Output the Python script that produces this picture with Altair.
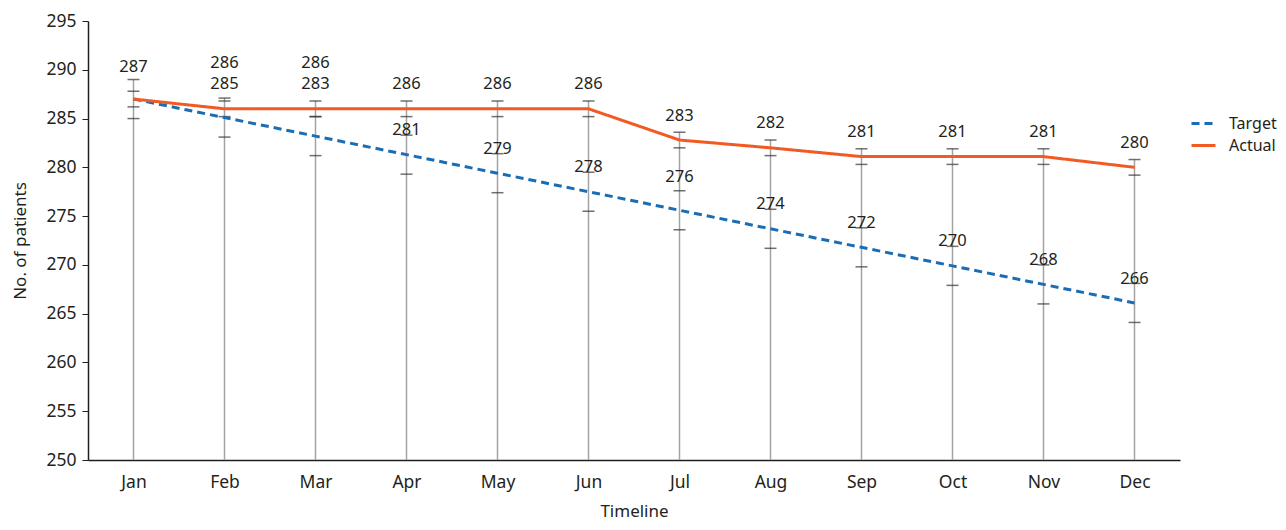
import altair as alt
import pandas as pd

months = ["Jan", "Feb", "Mar", "Apr", "May", "Jun", "Jul", "Aug", "Sep", "Oct", "Nov", "Dec"]
target = [287, 285.1, 283.2, 281.3, 279.4, 277.5, 275.6, 273.7, 271.8, 269.9, 268.0, 266.1]
actual = [287, 286, 286, 286, 286, 286, 282.8, 282, 281.1, 281.1, 281.1, 280]
target_err = [2.0] * 12
actual_err = [0.8] * 12
target_labels = ["", "285", "283", "281", "279", "278", "276", "274", "272", "270", "268", "266"]
actual_labels = ["287", "286", "286", "286", "286", "286", "283", "282", "281", "281", "281", "280"]

# label placement (data units above the point), overrides where labels are stacked
label_offset = 2.5
label_override = {("Actual", "Jan"): 290.3, ("Actual", "Feb"): 290.7, ("Target", "Feb"): 288.5,
                  ("Actual", "Mar"): 290.7, ("Target", "Mar"): 288.5, ("Target", "Jul"): 279.0}

rows = []
for i, m in enumerate(months):
    for s, vals, errs, labs in (("Target", target, target_err, target_labels),
                                ("Actual", actual, actual_err, actual_labels)):
        v = vals[i]
        e = errs[i]
        rows.append({"month": m, "series": s, "value": v, "hi": v + e, "lo": v - e,
                     "label": labs[i],
                     "label_y": label_override.get((s, m), v + label_offset)})
df = pd.DataFrame(rows)

rule_df = pd.DataFrame({"month": months,
                        "top": [max(t + te, a + ae) for t, te, a, ae in zip(target, target_err, actual, actual_err)],
                        "bottom": [250] * 12})

FONT = "Noto Sans"
TXT = "#231f20"
xscale = alt.Scale(type="point", padding=0.5)
xaxis = alt.Axis(title="Timeline", ticks=False, labelPadding=13, titlePadding=13,
                 labelAngle=0, domainColor=TXT, domainWidth=1.5)
yscale = alt.Scale(domain=[250, 295], nice=False, zero=False)
yaxis = alt.Axis(title="No. of patients", values=list(range(250, 296, 5)), tickSize=6,
                 labelPadding=6, titlePadding=16, domainColor=TXT, domainWidth=1.5,
                 tickColor=TXT, grid=False)

rules = alt.Chart(rule_df).mark_rule(color="#a3a3a3", strokeWidth=1.5).encode(
    x=alt.X("month:N", sort=months, scale=xscale, axis=xaxis),
    y=alt.Y("bottom:Q", scale=yscale, axis=yaxis),
    y2="top:Q")

caps_hi = alt.Chart(df).mark_tick(color="#333333", size=12, thickness=1.5).encode(
    x=alt.X("month:N", sort=months), y=alt.Y("hi:Q", scale=yscale))
caps_lo = alt.Chart(df).mark_tick(color="#333333", size=12, thickness=1.5).encode(
    x=alt.X("month:N", sort=months), y=alt.Y("lo:Q", scale=yscale))

color = alt.Color("series:N", sort=["Target", "Actual"],
                  scale=alt.Scale(domain=["Target", "Actual"], range=["#1a6db5", "#f15a22"]),
                  legend=alt.Legend(title=None, orient="none", legendX=1102, legendY=89,
                                    symbolType="stroke", symbolSize=576, symbolStrokeWidth=3,
                                    labelFontSize=16, labelFont=FONT, labelColor=TXT,
                                    rowPadding=0, labelOffset=12))
dash = alt.StrokeDash("series:N", sort=["Target", "Actual"],
                      scale=alt.Scale(domain=["Target", "Actual"], range=[[8, 5], [1, 0]]),
                      legend=None)
lines = alt.Chart(df).mark_line(strokeWidth=3).encode(
    x=alt.X("month:N", sort=months), y=alt.Y("value:Q", scale=yscale),
    color=color, strokeDash=dash)

texts = alt.Chart(df).mark_text(fontSize=16.5, font=FONT, color=TXT, baseline="middle").encode(
    x=alt.X("month:N", sort=months), y=alt.Y("label_y:Q", scale=yscale), text="label:N")

chart = alt.layer(rules, caps_hi, caps_lo, lines, texts).properties(
    width=1092, height=439,
    autosize=alt.AutoSizeParams(type="none"),
    padding={"left": 80, "top": 13, "right": 98, "bottom": 62},
).configure_view(stroke=None).configure_axis(
    labelFont=FONT, titleFont=FONT, labelFontSize=17.5, titleFontSize=17,
    labelColor=TXT, titleColor=TXT, titleFontWeight="normal"
)

chart.save("out.html", embed_options={"renderer": "svg", "actions": False})
